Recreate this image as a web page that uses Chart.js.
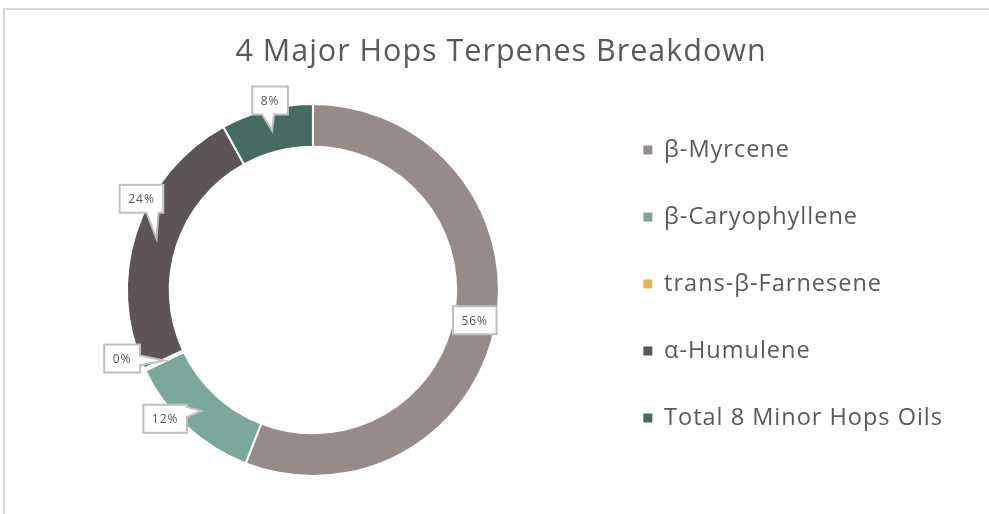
<!DOCTYPE html>
<html>
<head>
<meta charset="utf-8">
<script src="https://cdn.jsdelivr.net/npm/chart.js@4.4.1/dist/chart.umd.min.js"></script>
<style>
  html, body { margin: 0; padding: 0; background: #fff; }
  #wrap { position: relative; width: 989px; height: 514px; overflow: hidden; }
  #frame { position: absolute; left: 3px; top: 8px; width: 990px; height: 510px;
           border-top: 2px solid #d9d9d9; border-left: 2px solid #d9d9d9; }
  canvas { position: absolute; left: 0; top: 0; }
</style>
</head>
<body>
<div id="wrap">
  <div id="frame"></div>
  <canvas id="hopsChart" width="989" height="514"></canvas>
</div>
<script>
// chart data
const terpeneNames = ['β-Myrcene', 'β-Caryophyllene', 'trans-β-Farnesene', 'α-Humulene', 'Total 8 Minor Hops Oils'];
const terpeneShares = [56, 12, 0.2, 24, 8];
const sliceColors = ['#968b89', '#7ba89d', '#e0b65a', '#5d5455', '#466b62'];

const FONT = '"Open Sans", Lato, sans-serif';
const TEXT_GREY = '#595959';

// the office-style text is a bit spread out, give canvas text some tracking
const letterSpacing = {
    id: 'letterSpacing',
    beforeUpdate(chart) { chart.ctx.letterSpacing = '1px'; },
    beforeDraw(chart) { chart.ctx.letterSpacing = '1px'; }
};

// title is centred on the whole frame in the original, not on chart+legend
const titleNudge = {
    id: 'titleNudge',
    afterLayout(chart) {
        if (chart.titleBlock) chart.titleBlock.left += 23;
    }
};

// draws the little excel-style callout boxes with the percentages
const calloutLabels = {
    id: 'calloutLabels',
    afterDatasetsDraw(chart, args, opts) {
        const ctx = chart.ctx;
        const meta = chart.getDatasetMeta(0);
        const values = chart.data.datasets[0].data;
        const total = values.reduce((a, b) => a + b, 0);

        ctx.save();
        ctx.font = opts.fontSize + 'px ' + FONT;
        ctx.lineWidth = 2;
        ctx.lineJoin = 'miter';

        meta.data.forEach((arc, i) => {
            const p = arc.getProps(['x', 'y', 'startAngle', 'endAngle', 'innerRadius', 'outerRadius'], true);
            const mid = (p.startAngle + p.endAngle) / 2;
            const r = (p.innerRadius + p.outerRadius) / 2;
            const tipX = p.x + Math.cos(mid) * r;
            const tipY = p.y + Math.sin(mid) * r;
            const dx = opts.offsets[i][0], dy = opts.offsets[i][1];

            const text = Math.round(values[i] / total * 100) + '%';
            const w = ctx.measureText(text).width + 17;
            const h = 28;
            const cx = tipX + dx, cy = tipY + dy;
            const L = cx - w / 2, R = cx + w / 2, T = cy - h / 2, B = cy + h / 2;

            let edge = null;
            if (dx !== 0 || dy !== 0) {
                if (Math.abs(dy) / (h / 2) >= Math.abs(dx) / (w / 2)) edge = dy < 0 ? 'bottom' : 'top';
                else edge = dx < 0 ? 'right' : 'left';
            }
            const clamp = (v, lo, hi) => Math.max(lo, Math.min(hi, v));
            let a, b;
            if (edge === 'top' || edge === 'bottom') {
                const c = clamp(tipX - 4, L + 8, R - 8);
                a = c - 6; b = c + 6;
            } else if (edge) {
                const c = clamp(tipY, T + 7, B - 7);
                a = c - 5; b = c + 5;
            }

            ctx.beginPath();
            ctx.moveTo(L, T);
            if (edge === 'top') { ctx.lineTo(a, T); ctx.lineTo(tipX, tipY); ctx.lineTo(b, T); }
            ctx.lineTo(R, T);
            if (edge === 'right') { ctx.lineTo(R, a); ctx.lineTo(tipX, tipY); ctx.lineTo(R, b); }
            ctx.lineTo(R, B);
            if (edge === 'bottom') { ctx.lineTo(b, B); ctx.lineTo(tipX, tipY); ctx.lineTo(a, B); }
            ctx.lineTo(L, B);
            if (edge === 'left') { ctx.lineTo(L, b); ctx.lineTo(tipX, tipY); ctx.lineTo(L, a); }
            ctx.closePath();
            ctx.fillStyle = '#ffffff';
            ctx.fill();
            ctx.strokeStyle = '#bfbfbf';
            ctx.stroke();

            ctx.fillStyle = TEXT_GREY;
            ctx.textAlign = 'center';
            ctx.textBaseline = 'middle';
            ctx.fillText(text, cx, cy + 1);
        });
        ctx.restore();
    }
};

document.addEventListener("DOMContentLoaded", function() {
    const ctx = document.getElementById('hopsChart').getContext('2d');
    const baseLabels = Chart.overrides.doughnut.plugins.legend.labels.generateLabels;

    new Chart(ctx, {
        type: 'doughnut',
        data: {
            labels: terpeneNames,
            datasets: [{
                data: terpeneShares,
                backgroundColor: sliceColors,
                borderColor: '#ffffff',
                borderWidth: 2
            }]
        },
        options: {
            responsive: false,
            animation: false,
            cutout: '77%',
            layout: { padding: { top: 10, bottom: 37, left: 26, right: 36 } },
            plugins: {
                title: {
                    display: true,
                    text: '4 Major Hops Terpenes Breakdown',
                    color: TEXT_GREY,
                    font: { family: FONT, size: 30.5, weight: 'normal' },
                    padding: { top: 24, bottom: 32.4 }
                },
                legend: {
                    position: 'right',
                    // empty title only used as a spacer to push the items down
                    title: { display: true, text: '', font: { size: 12 }, padding: { top: 33, bottom: 33.6 } },
                    labels: {
                        boxWidth: 9,
                        boxHeight: 9,
                        padding: 43.5,
                        color: TEXT_GREY,
                        font: { family: FONT, size: 23.5 },
                        generateLabels(chart) {
                            return baseLabels(chart).map(item => {
                                item.lineWidth = 0;
                                item.strokeStyle = item.fillStyle;
                                return item;
                            });
                        }
                    }
                },
                tooltip: { enabled: false },
                calloutLabels: {
                    fontSize: 12,
                    offsets: [[0, 0], [-36, 8], [-42, -2], [-15, -40], [-2, -30]]
                }
            }
        },
        plugins: [letterSpacing, titleNudge, calloutLabels]
    });
});
</script>
</body>
</html>
